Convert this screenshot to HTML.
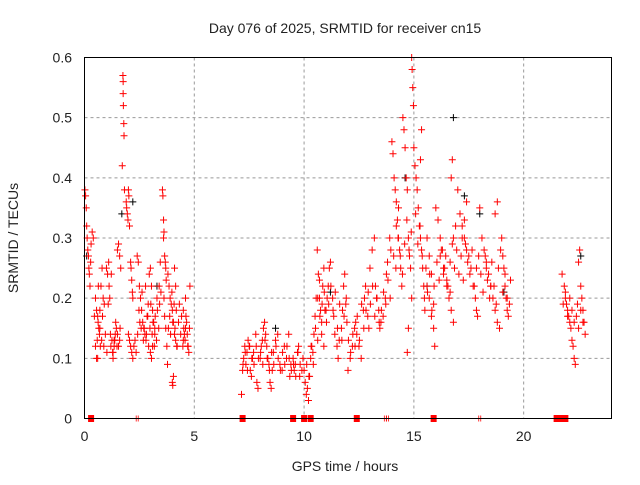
<!DOCTYPE html>
<html><head><meta charset="utf-8"><style>
body{margin:0;background:#fff}
svg text{font-family:"Liberation Sans",sans-serif;fill:#222}
</style></head><body>
<svg id="chart" width="640" height="480" viewBox="0 0 640 480" xmlns="http://www.w3.org/2000/svg">
<rect width="640" height="480" fill="#fff"/>
<text x="345" y="33" font-size="14" text-anchor="middle">Day 076 of 2025, SRMTID for receiver cn15</text>
<text x="345" y="471" font-size="14" text-anchor="middle">GPS time / hours</text>
<text x="18" y="238" font-size="14" text-anchor="middle" transform="rotate(-90 18 238)">SRMTID / TECUs</text>
<g id="grid"></g>
<g id="axes"></g>
<g id="marks"></g>
<rect x="84.5" y="57.5" width="527" height="361" fill="none" stroke="#000" stroke-width="1"/>
</svg>
<script>
const xTicks=[0,5,10,15,20];
const yTicks=[0,0.1,0.2,0.3,0.4,0.5,0.6];
const yTickLabels=["0","0.1","0.2","0.3","0.4","0.5","0.6"];
const hours=[0.02,0.05,0.08,0.1,0.12,0.15,0.18,0.2,0.22,0.25,0.28,0.3,0.35,0.4,
0.5,0.55,0.6,0.62,0.65,0.68,0.7,0.75,0.8,0.55,0.6,0.72,0.85,0.9,
1.0,1.05,1.1,1.12,1.15,1.2,1.25,1.3,1.35,1.4,1.45,1.3,1.35,1.42,
1.5,1.55,1.6,1.65,1.5,1.55,1.6,1.62,1.75,1.76,1.76,1.77,1.79,1.8,1.72,1.82,
1.9,1.92,1.95,1.98,2.0,2.02,2.05,2.1,2.12,2.15,2.2,2.18,2.0,2.05,2.1,2.15,2.2,2.25,
2.4,2.45,2.5,2.55,2.6,2.65,2.7,2.75,2.8,2.85,2.9,2.95,3.0,3.05,3.1,3.15,3.2,3.0,3.05,3.1,3.2,3.3,3.4,3.45,
3.55,3.57,3.6,3.62,3.6,3.65,3.68,3.7,3.72,3.62,3.65,3.7,3.75,3.78,
3.8,3.85,3.9,3.95,4.0,4.05,4.1,4.15,4.2,4.0,4.02,4.05,4.1,4.15,
4.5,4.55,4.6,4.65,4.7,4.75,4.5,4.6,4.8,
7.15,7.2,7.25,7.3,7.35,7.4,7.45,7.5,7.55,7.6,7.65,7.7,7.8,7.85,7.9,
8.0,8.05,8.1,8.15,8.2,8.25,8.3,8.35,8.4,8.45,8.5,8.55,8.6,8.7,8.8,8.9,9.0,9.1,9.2,9.3,9.35,9.4,
9.5,9.55,9.6,9.7,9.75,9.8,9.9,9.95,
10.0,10.05,10.1,10.15,10.2,10.25,10.3,10.35,10.4,10.45,10.5,10.55,
10.6,10.65,10.7,10.75,10.8,10.85,10.9,10.95,10.62,10.7,10.8,10.9,
11.0,11.05,11.1,11.15,11.2,11.3,11.35,11.4,11.5,11.55,11.6,11.7,11.75,11.8,11.85,11.9,11.95,
12.0,12.1,12.2,12.3,12.35,12.4,12.5,12.6,12.7,12.75,12.8,12.9,12.95,
13.0,13.1,13.2,13.25,13.3,13.4,13.45,13.5,13.6,13.7,13.75,13.8,13.9,13.95,
14.0,14.05,14.1,14.15,14.2,14.25,14.3,14.35,14.4,14.45,14.2,14.3,
14.5,14.55,14.6,14.65,14.7,14.75,14.8,14.85,14.9,14.7,14.75,14.9,14.92,14.95,14.98,
15.0,15.05,15.1,15.15,15.2,15.25,15.3,15.35,15.4,15.45,15.48,15.5,15.3,15.35,
15.55,15.6,15.7,15.8,15.9,15.6,15.7,15.8,15.9,15.95,
16.0,16.1,16.2,16.3,16.4,16.5,16.6,16.7,16.8,16.2,16.35,16.5,16.65,16.8,16.9,16.7,16.75,
17.0,17.1,17.2,17.3,17.4,17.5,17.6,17.7,17.8,17.85,17.9,17.2,17.3,17.4,
18.0,18.1,18.2,18.3,18.4,18.5,18.6,18.7,18.8,18.9,18.3,18.5,18.7,18.8,
19.0,19.05,19.1,19.15,19.2,19.25,19.3,19.35,19.4,
21.75,21.85,21.9,21.95,22.0,22.05,22.1,22.15,22.2,22.25,22.3,22.35,22.5,22.55,22.6,22.65,22.7,22.75,22.8];
const srmtid=[0.38,0.37,0.35,0.32,0.30,0.28,0.27,0.25,0.24,0.22,0.26,0.29,0.31,0.30,
0.20,0.18,0.17,0.16,0.15,0.14,0.18,0.22,0.25,0.10,0.10,0.12,0.20,0.19,
0.25,0.24,0.26,0.22,0.20,0.12,0.13,0.11,0.12,0.14,0.15,0.10,0.13,0.16,
0.28,0.29,0.27,0.25,0.14,0.12,0.13,0.15,0.57,0.56,0.54,0.52,0.49,0.47,0.42,0.38,
0.36,0.35,0.34,0.33,0.38,0.37,0.32,0.26,0.25,0.23,0.20,0.21,0.14,0.13,0.12,0.11,0.10,0.12,
0.27,0.26,0.22,0.20,0.18,0.16,0.15,0.14,0.13,0.17,0.19,0.24,0.25,0.22,0.18,0.16,0.15,0.11,0.10,0.12,0.14,0.20,0.22,0.26,
0.38,0.37,0.33,0.31,0.30,0.27,0.26,0.25,0.23,0.20,0.17,0.15,0.12,0.09,
0.24,0.22,0.20,0.19,0.18,0.16,0.14,0.13,0.12,0.06,0.055,0.07,0.25,0.22,
0.13,0.14,0.15,0.16,0.12,0.11,0.18,0.20,0.22,
0.04,0.08,0.10,0.12,0.09,0.11,0.13,0.12,0.08,0.07,0.10,0.11,0.14,0.06,0.05,
0.10,0.12,0.13,0.15,0.16,0.14,0.12,0.10,0.09,0.06,0.05,0.08,0.11,0.13,0.14,0.09,0.08,0.12,0.10,0.14,0.07,0.09,
0.10,0.08,0.09,0.11,0.12,0.07,0.08,0.10,
0.08,0.06,0.04,0.05,0.03,0.07,0.10,0.12,0.11,0.14,0.17,0.20,
0.28,0.24,0.20,0.18,0.16,0.22,0.25,0.18,0.20,0.23,0.14,0.12,
0.18,0.20,0.22,0.25,0.26,0.20,0.17,0.14,0.12,0.10,0.13,0.15,0.18,0.22,0.24,0.19,0.16,
0.08,0.10,0.12,0.15,0.16,0.14,0.12,0.10,0.18,0.20,0.22,0.17,0.15,
0.25,0.28,0.30,0.22,0.20,0.18,0.15,0.16,0.17,0.20,0.24,0.26,0.30,0.28,
0.46,0.44,0.40,0.38,0.36,0.33,0.30,0.28,0.25,0.22,0.32,0.35,
0.50,0.48,0.45,0.40,0.38,0.30,0.27,0.25,0.20,0.11,0.15,0.60,0.58,0.55,0.52,
0.45,0.42,0.40,0.38,0.35,0.32,0.30,0.28,0.25,0.22,0.20,0.18,0.43,0.48,
0.25,0.22,0.20,0.17,0.15,0.30,0.27,0.24,0.19,0.12,
0.35,0.33,0.30,0.28,0.25,0.22,0.20,0.18,0.16,0.27,0.25,0.23,0.21,0.30,0.32,0.40,0.43,
0.38,0.34,0.32,0.30,0.28,0.27,0.25,0.22,0.20,0.18,0.17,0.30,0.33,0.36,
0.35,0.30,0.28,0.26,0.24,0.22,0.20,0.18,0.16,0.15,0.25,0.22,0.34,0.36,
0.30,0.27,0.25,0.22,0.20,0.18,0.17,0.19,0.23,
0.24,0.22,0.20,0.19,0.18,0.17,0.16,0.15,0.13,0.12,0.10,0.09,0.26,0.28,0.22,0.20,0.18,0.16,0.14];
const hoursB=[0.45,0.5,0.58,0.63,0.7,0.78,0.82,0.88,0.95,1.02,1.08,1.18,1.22,1.28,1.38,1.48,
2.3,2.35,2.42,2.48,2.52,2.58,2.62,2.68,2.72,2.78,2.82,2.88,2.92,2.98,3.02,3.08,3.12,3.18,3.22,3.28,3.32,3.38,3.42,3.48,
3.82,3.88,3.92,3.98,4.02,4.08,4.12,4.18,4.22,4.28,4.32,4.38,4.42,4.48,4.52,4.58,4.62,4.68,4.72,4.78,
7.22,7.32,7.42,7.52,7.62,7.72,7.82,7.92,8.02,8.12,8.22,8.32,8.42,8.52,8.62,8.72,8.82,8.92,9.02,9.12,9.22,9.32,9.42,9.52,9.62,9.72,9.82,
10.12,10.22,10.32,10.42,10.52,10.62,10.72,10.82,10.92,11.02,11.12,11.22,11.32,11.42,11.52,11.62,11.72,11.82,11.92,
12.02,12.12,12.22,12.32,12.42,12.52,12.62,12.72,12.82,12.92,13.02,13.12,13.22,13.32,13.42,13.52,13.62,13.72,13.82,13.92,
14.08,14.18,14.28,14.38,14.48,14.58,14.68,14.78,14.88,15.08,15.18,15.28,15.38,15.62,15.72,15.82,15.92,
16.05,16.15,16.25,16.35,16.45,16.55,16.65,16.75,16.85,16.95,17.05,17.15,17.25,17.35,17.45,17.55,17.65,17.75,17.85,17.95,
18.05,18.15,18.25,18.35,18.45,18.55,18.65,18.75,18.85,18.95,19.05,19.15,19.25,
21.8,21.9,22.0,22.1,22.2,22.3,22.4,22.45,22.5,22.6,22.7];
const srmtidB=[0.17,0.12,0.13,0.22,0.15,0.13,0.17,0.12,0.14,0.11,0.19,0.14,0.24,0.11,0.13,0.12,
0.13,0.11,0.14,0.18,0.16,0.15,0.21,0.13,0.15,0.22,0.14,0.17,0.12,0.15,0.19,0.14,0.16,0.12,0.17,0.13,0.18,0.15,0.19,0.21,
0.15,0.17,0.14,0.21,0.16,0.19,0.15,0.18,0.12,0.16,0.19,0.14,0.17,0.12,0.15,0.13,0.17,0.14,0.12,0.15,
0.09,0.11,0.08,0.12,0.10,0.09,0.12,0.10,0.11,0.09,0.13,0.10,0.08,0.11,0.09,0.12,0.10,0.08,0.11,0.09,0.12,0.10,0.08,0.09,0.07,0.11,0.09,
0.09,0.07,0.12,0.09,0.15,0.13,0.17,0.19,0.21,0.16,0.19,0.22,0.18,0.21,0.15,0.19,0.13,0.17,0.20,
0.13,0.11,0.14,0.12,0.17,0.13,0.19,0.15,0.18,0.21,0.19,0.22,0.17,0.20,0.16,0.18,0.21,0.19,0.23,0.20,
0.27,0.25,0.30,0.27,0.24,0.29,0.33,0.28,0.31,0.34,0.29,0.32,0.27,0.21,0.24,0.18,0.22,
0.26,0.23,0.28,0.24,0.27,0.22,0.26,0.29,0.25,0.28,0.24,0.27,0.23,0.29,0.26,0.24,0.28,0.22,0.25,0.27,
0.24,0.21,0.27,0.23,0.20,0.26,0.22,0.19,0.25,0.28,0.21,0.24,0.20,
0.19,0.21,0.17,0.20,0.18,0.16,0.17,0.19,0.15,0.18,0.16];
const blackHours=[0.1,1.7,2.2,3.3,8.7,11.2,14.6,15.6,16.8,17.3,18.0,19.1,22.6];
const blackSrmtid=[0.27,0.34,0.36,0.22,0.15,0.21,0.40,0.22,0.50,0.37,0.34,0.21,0.27];
const zeroHours=[0.3,7.2,9.5,10.0,10.3,12.4,15.9,21.5,21.6,21.7,21.9];
const zeroTickHours=[2.4,13.7,13.8,18.0];

const NS="http://www.w3.org/2000/svg";
const X0=84.5,X1=611.5,Y0=418.5,Y1=57.5;
const sx=h=>X0+(h/24)*(X1-X0);
const sy=v=>Y0-(v/0.6)*(Y0-Y1);
const grid=document.getElementById('grid'),axes=document.getElementById('axes'),marks=document.getElementById('marks');
function mk(tag,attrs,parent){const e=document.createElementNS(NS,tag);for(const k in attrs)e.setAttribute(k,attrs[k]);parent.appendChild(e);return e;}
xTicks.forEach(t=>{
  const x=sx(t);
  if(t>0){const g=mk('line',{x1:x,x2:x,y1:Y1,y2:Y0,stroke:'#999','stroke-dasharray':'3,3'},grid);
  
  }
  const l=mk('text',{x:x,y:441,'font-size':14,'text-anchor':'middle'},axes);l.textContent=t;
  
  
});
yTicks.forEach((t,i)=>{
  const y=sy(t);
  if(t>0&&t<0.6){const g=mk('line',{x1:X0,x2:X1,y1:y,y2:y,stroke:'#999','stroke-dasharray':'3,3'},grid);
  
  }
  const l=mk('text',{x:72,y:y+5,'font-size':14,'text-anchor':'end'},axes);l.textContent=yTickLabels[i];
  
  
});
function plus(h,v,col){
  const x=sx(h),y=sy(v);
  const p=mk('path',{d:`M${x-3.5},${y}H${x+3.5}M${x},${y-3.5}V${y+3.5}`,stroke:col,'stroke-width':1,fill:'none'},marks);
  
  
}
blackHours.forEach((h,i)=>plus(h,blackSrmtid[i],'#000'));
hours.forEach((h,i)=>plus(h,srmtid[i],'#f00'));
hoursB.forEach((h,i)=>plus(h,srmtidB[i],'#f00'));
zeroHours.forEach(h=>{
  const r=mk('rect',{x:sx(h)-3,y:Y0-3.5,width:6,height:7,fill:'#f00'},marks);
  
  
});
zeroTickHours.forEach(h=>{
  const r=mk('path',{d:`M${sx(h)-1},${Y0-3}V${Y0+3}M${sx(h)+1},${Y0-3}V${Y0+3}`,stroke:'#f00','stroke-width':0.8},marks);
  
  
});
</script>
</body></html>
